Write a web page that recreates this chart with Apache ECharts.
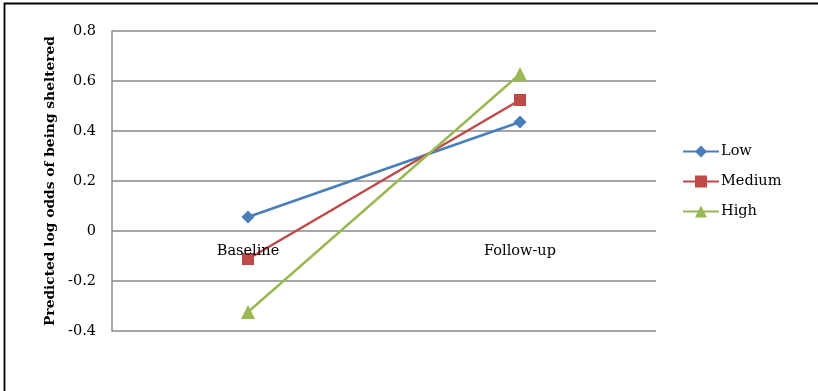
<!DOCTYPE html>
<html>
<head>
<meta charset="utf-8">
<script src="https://cdn.jsdelivr.net/npm/echarts@6/dist/echarts.min.js"></script>
<style>
  html, body { margin: 0; padding: 0; background: #fff; }
  #chart { width: 818px; height: 391px; }
</style>
</head>
<body>
<div id="chart"></div>
<script>
// Time points on the x axis
const timePoints = ['Baseline', 'Follow-up'];

// Predicted log odds per group
const lowValues = [0.056, 0.436];
const mediumValues = [-0.112, 0.524];
const highValues = [-0.324, 0.628];

// Y axis range and step
const yMin = -0.4;
const yMax = 0.8;
const yStep = 0.2;

const serifFont = '"DejaVu Serif", "Liberation Serif", serif';
const gridGray = '#8a8a8a';

// Plot box
const gridTop = 31;
const gridBottom = 60;
const plotHeight = 391 - gridTop - gridBottom;
// lift the category axis from the bottom edge up to the zero line
const zeroLift = (0 - yMin) / (yMax - yMin) * plotHeight;

const chart = echarts.init(document.getElementById('chart'), null, { renderer: 'canvas' });

function lineSeries(name, data, color, symbol, size) {
  return {
    name: name,
    type: 'line',
    data: data,
    symbol: symbol,
    symbolSize: size,
    showSymbol: true,
    lineStyle: { color: color, width: 2.5 },
    itemStyle: { color: color },
    emphasis: { disabled: true },
    z: 3
  };
}

chart.setOption({
  animation: false,
  backgroundColor: '#fff',
  graphic: [{
    type: 'polyline',
    shape: { points: [[4.5, 400], [4.5, 3.5], [830, 3.5]] },
    style: { fill: null, stroke: '#000', lineWidth: 1.8 },
    silent: true
  }],
  grid: { left: 112, right: 162, top: gridTop, bottom: gridBottom, containLabel: false },
  legend: {
    orient: 'vertical',
    left: 682,
    top: 144,
    padding: 0,
    itemWidth: 36,
    itemHeight: 15,
    itemGap: 15,
    textStyle: { fontFamily: serifFont, fontSize: 14.5, color: '#000', padding: [0, 0, 0, -3] },
    data: ['Low', 'Medium', 'High']
  },
  xAxis: {
    type: 'category',
    data: timePoints,
    boundaryGap: true,
    position: 'bottom',
    offset: -zeroLift,
    z: 10,
    axisLine: { show: false, onZero: false },
    axisTick: { show: false },
    splitLine: { show: false },
    axisLabel: {
      margin: 13,
      fontFamily: serifFont,
      fontSize: 14.5,
      color: '#000'
    }
  },
  yAxis: {
    type: 'value',
    min: yMin,
    max: yMax,
    interval: yStep,
    name: 'Predicted log odds of being sheltered',
    nameLocation: 'middle',
    nameGap: 46,
    nameRotate: 90,
    nameTextStyle: { fontFamily: serifFont, fontSize: 13.8, fontWeight: 'bold', color: '#000' },
    axisLine: { show: true, lineStyle: { color: gridGray, width: 1.5 } },
    axisTick: { show: false },
    splitLine: { show: true, lineStyle: { color: gridGray, width: 1.5 } },
    axisLabel: {
      margin: 16,
      fontFamily: serifFont,
      fontSize: 14.5,
      color: '#000',
      formatter: function (v) {
        const r = Math.round(v * 10) / 10;
        return r === 0 ? '0' : String(r);
      }
    }
  },
  series: [
    lineSeries('Low', lowValues, '#4A7EBB', 'diamond', 13),
    lineSeries('Medium', mediumValues, '#BE4B48', 'rect', 12),
    lineSeries('High', highValues, '#98B954', 'triangle', 14)
  ]
});
</script>
</body>
</html>
